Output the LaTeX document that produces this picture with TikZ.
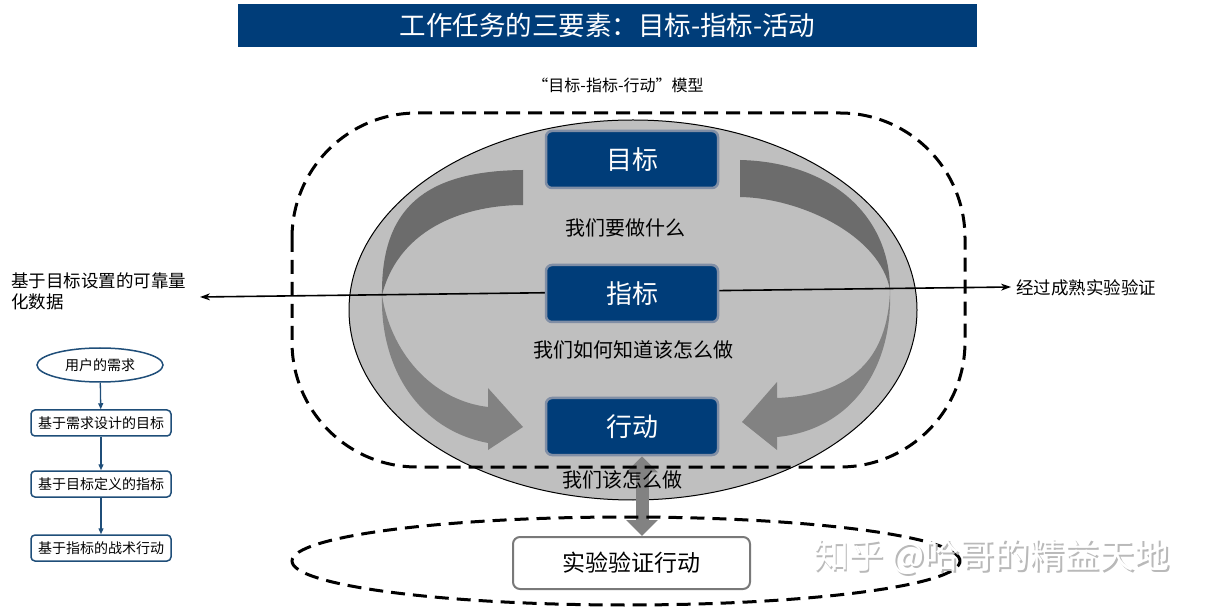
\documentclass[tikz,border=0pt]{standalone}
\usepackage{fontspec}
\setmainfont{Noto Sans CJK SC}
\usetikzlibrary{arrows.meta,shapes.geometric}
\definecolor{navy}{RGB}{0,61,121}
\definecolor{boxedge}{RGB}{128,142,165}
\definecolor{ellfill}{RGB}{191,191,191}
\definecolor{banddark}{RGB}{108,108,108}
\definecolor{bandlight}{RGB}{130,130,130}
\definecolor{flowblue}{RGB}{31,78,121}
\tikzset{
  bluebox/.style={draw=boxedge,line width=2.5pt,fill=navy,rounded corners=6pt,minimum width=172pt,minimum height=57pt,inner sep=0pt,text=white,font=\fontsize{26}{30}\selectfont},
  midtext/.style={inner sep=0pt,font=\fontsize{20}{24}\selectfont},
  dashline/.style={line width=3pt,dash pattern=on 14pt off 8pt},
  flowbox/.style={draw=flowblue,line width=1.5pt,fill=white,rounded corners=4pt,minimum width=140pt,minimum height=26pt,inner sep=0pt,font=\fontsize{14}{16}\selectfont},
  flowell/.style={draw=flowblue,line width=1.5pt,fill=white,ellipse,minimum width=126pt,minimum height=34pt,inner sep=0pt,font=\fontsize{14}{16}\selectfont},
  flowarrow/.style={draw=flowblue,line width=1.3pt,-{Triangle[length=6pt,width=5pt]}},
  sidetext/.style={inner sep=0pt,font=\fontsize{17.5}{21}\selectfont},
}
\begin{document}
\begin{tikzpicture}[x=1pt,y=-1pt]
\useasboundingbox (0,0) rectangle (1205,609);
% title
\fill[navy] (238,4) rectangle (977,47);
\node[text=white,inner sep=0pt,font=\fontsize{26.5}{30}\selectfont] (title) at (607.5,25.5) {工作任务的三要素：目标-指标-活动};
\node[inner sep=0pt,font=\fontsize{16}{19}\selectfont] (sub) at (618,85) {“目标-指标-行动”模型};
% big ellipse
\draw[fill=ellfill,line width=1pt] (633,310) ellipse [x radius=284pt,y radius=190pt];
% left band
\fill[banddark] (523,170) .. controls (425,171) and (381,208) .. (382,295)
  .. controls (400,225) and (470,205) .. (523,205) -- cycle;
\fill[bandlight] (382,295) .. controls (380,370) and (420,430) .. (488,443)
  -- (488,450) -- (523,427) -- (488,388) -- (488,407)
  .. controls (430,400) and (390,350) .. (382,295) -- cycle;
% right band
\fill[banddark] (740,160) .. controls (830,162) and (890,215) .. (890,290)
  .. controls (880,235) and (800,198) .. (740,197) -- cycle;
\fill[bandlight] (890,290) .. controls (893,370) and (850,430) .. (777,437)
  -- (777,450) -- (742,422) -- (777,382) -- (777,398)
  .. controls (850,395) and (888,360) .. (890,290) -- cycle;
% side labels and horizontal line
\node[sidetext,anchor=west,align=left] (labL) at (11,291.5) {基于目标设置的可靠量\\化数据};
\node[sidetext,anchor=west] (labR) at (1016,288) {经过成熟实验验证};
\coordinate (hL) at (200,297);
\coordinate (hR) at (1011,287);
\draw[line width=1.6pt,{Stealth[length=10pt,width=7pt]}-{Stealth[length=10pt,width=7pt]}] (hL) -- (hR);
% boxes
\node[bluebox] (goal) at (632,159.5) {目标};
\node[bluebox] (metric) at (632,293.5) {指标};
\node[bluebox] (act) at (632,426.5) {行动};
\node[midtext] (q1) at (625,228) {我们要做什么};
\node[midtext] (q2) at (633,350) {我们如何知道该怎么做};
% bottom part
\node[draw=gray!95!black,line width=2pt,fill=white,rounded corners=7pt,minimum width=237pt,minimum height=52pt,inner sep=0pt,font=\fontsize{23}{26}\selectfont] (exp) at (631.5,563) {实验验证行动};
\draw[bandlight,line width=13pt,{Triangle[length=16pt,width=31pt]}-{Triangle[length=16pt,width=31pt]}] ([xshift=10pt]act.south) -- ([xshift=10.5pt]exp.north);
\node[midtext] (q3) at (622,480) {我们该怎么做};
% dashed outlines
\draw[dashline,rounded corners=125pt] (292,113) rectangle (965,467);
\draw[dashline] (626,561) ellipse [x radius=334pt,y radius=44pt];
% flowchart
\node[flowell] (f1) at (100,365) {用户的需求};
\node[flowbox] (f2) at (101,423) {基于需求设计的目标};
\node[flowbox] (f3) at (101,484) {基于目标定义的指标};
\node[flowbox] (f4) at (101,548) {基于指标的战术行动};
\draw[flowarrow] (f1) -- (f2);
\draw[flowarrow] (f2) -- (f3);
\draw[flowarrow] (f3) -- (f4);
% watermark
\node[inner sep=0pt,text=gray!55,font=\fontsize{35}{40}\selectfont] (wm0) at (993.5,558.5) {知乎 @哈哥的精益天地};
\node[inner sep=0pt,text=white,font=\fontsize{35}{40}\selectfont] (wm) at (992,557) {知乎 @哈哥的精益天地};
\end{tikzpicture}
\end{document}
